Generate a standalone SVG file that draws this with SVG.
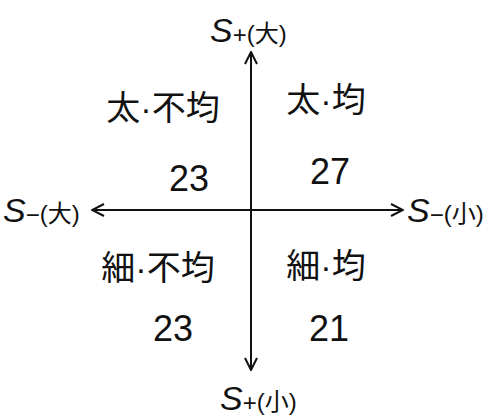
<svg xmlns="http://www.w3.org/2000/svg" width="494" height="419" viewBox="0 0 494 419">
<style>
.t{font-family:"Liberation Sans","Noto Sans CJK JP",sans-serif;fill:#111;}
.j{font-size:34px;}
.n{font-size:36px;}
.s{font-size:34px;font-style:italic;}
.p{font-size:24px;}
.ax{stroke:#111;stroke-width:2;fill:none;}
</style>
<defs>
<marker id="ah" viewBox="0 0 14 14" refX="13" refY="7" markerWidth="14" markerHeight="14" markerUnits="userSpaceOnUse" orient="auto">
<path d="M1,1 L13,7 L1,13" fill="none" stroke="#111" stroke-width="2"/>
</marker>
</defs>
<rect width="494" height="419" fill="#fff"/>
<g id="connectors">
<line class="ax" x1="251" y1="210" x2="251" y2="52" marker-end="url(#ah)"/>
<line class="ax" x1="251" y1="210" x2="251" y2="370" marker-end="url(#ah)"/>
<line class="ax" x1="251" y1="210" x2="92" y2="210" marker-end="url(#ah)"/>
<line class="ax" x1="251" y1="210" x2="403" y2="210" marker-end="url(#ah)"/>
</g>
<g id="s-plus-large"><text class="t" x="210" y="42"><tspan class="s">S</tspan><tspan class="p" dy="1">+</tspan><tspan class="p" dy="-1">(大)</tspan></text></g>
<g id="s-plus-small"><text class="t" x="220" y="410"><tspan class="s">S</tspan><tspan class="p" dy="1">+</tspan><tspan class="p" dy="-1">(小)</tspan></text></g>
<g id="s-minus-large"><text class="t" x="3" y="222"><tspan class="s">S</tspan><tspan class="p" dy="1">−</tspan><tspan class="p" dy="-1">(大)</tspan></text></g>
<g id="s-minus-small"><text class="t" x="407" y="222"><tspan class="s">S</tspan><tspan class="p" dy="1">−</tspan><tspan class="p" dy="-1">(小)</tspan></text></g>
<g id="q-top-left">
<text class="t j" x="163" y="120" text-anchor="middle">太·不均</text>
<text class="t n" x="189" y="191" text-anchor="middle">23</text>
</g>
<g id="q-top-right">
<text class="t j" x="326" y="112" text-anchor="middle">太·均</text>
<text class="t n" x="330" y="184" text-anchor="middle">27</text>
</g>
<g id="q-bottom-left">
<text class="t j" x="158" y="280" text-anchor="middle">細·不均</text>
<text class="t n" x="173" y="341" text-anchor="middle">23</text>
</g>
<g id="q-bottom-right">
<text class="t j" x="326" y="278" text-anchor="middle">細·均</text>
<text class="t n" x="329" y="341" text-anchor="middle">21</text>
</g>
</svg>
